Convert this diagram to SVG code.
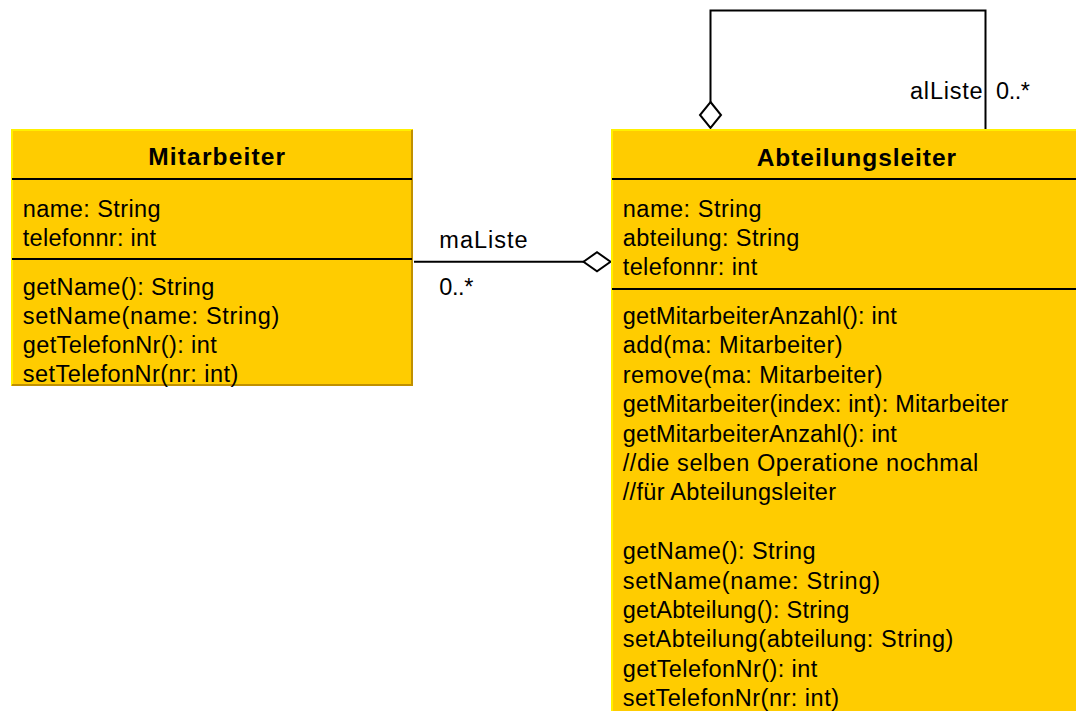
<svg xmlns="http://www.w3.org/2000/svg" width="1076" height="711" viewBox="0 0 1076 711">
<style>
text{font-family:"Liberation Sans",Arial,sans-serif;font-size:23.5px;fill:#000}
.t{font-weight:bold;font-size:24.5px}
.fill{fill:#FFCC00}
.lt{stroke:#FFF000;stroke-width:2;fill:none}
.dk{stroke:#C09000;stroke-width:2;fill:none}
.sep{stroke:#000;stroke-width:2}
.con{stroke:#000;stroke-width:2;fill:none}
.dia{stroke:#000;stroke-width:2;fill:#fff;stroke-linejoin:miter}
</style>
<rect width="1076" height="711" fill="#fff"/>
<g id="connectors">
<path class="con" d="M414 261.7H584"/>
<polygon class="dia" points="583.5,261.7 597,252.2 610.5,261.7 597,271.2"/>
<path class="con" d="M710.5 102V10.5H985.5V129"/>
<polygon class="dia" points="710.5,102 721,115 710.5,128 700,115"/>
<text x="439.3" y="248.3" textLength="88.4" lengthAdjust="spacing">maListe</text>
<text x="439.3" y="295" textLength="34" lengthAdjust="spacing">0..*</text>
<text x="910" y="99.3" textLength="72.7" lengthAdjust="spacing">alListe</text>
<text x="996" y="99.3" textLength="34" lengthAdjust="spacing">0..*</text>
</g>
<g id="Mitarbeiter">
<rect class="fill" x="11" y="129" width="402" height="257"/>
<path class="lt" d="M12 385V130H412"/>
<path class="dk" d="M412 130V385H12"/>
<line class="sep" x1="12" y1="179" x2="412" y2="179"/>
<line class="sep" x1="12" y1="259" x2="412" y2="259"/>
<text class="t" x="148.3" y="165" textLength="136.7" lengthAdjust="spacing">Mitarbeiter</text>
<text x="22.7" y="216.7" textLength="138" lengthAdjust="spacing">name: String</text>
<text x="22.7" y="245.5" textLength="133.3" lengthAdjust="spacing">telefonnr: int</text>
<text x="22.7" y="295" textLength="191.6" lengthAdjust="spacing">getName(): String</text>
<text x="22.7" y="324" textLength="256.6" lengthAdjust="spacing">setName(name: String)</text>
<text x="22.7" y="353.3" textLength="194" lengthAdjust="spacing">getTelefonNr(): int</text>
<text x="22.7" y="382" textLength="215.6" lengthAdjust="spacing">setTelefonNr(nr: int)</text>
</g>
<g id="Abteilungsleiter">
<rect class="fill" x="611" y="129" width="490" height="620"/>
<path class="lt" d="M612 749V130H1100"/>
<line class="sep" x1="612" y1="179" x2="1100" y2="179"/>
<line class="sep" x1="612" y1="289" x2="1100" y2="289"/>
<text class="t" x="756.7" y="165.7" textLength="199.3" lengthAdjust="spacing">Abteilungsleiter</text>
<text x="622.7" y="216.7" textLength="139" lengthAdjust="spacing">name: String</text>
<text x="622.7" y="245.7" textLength="176.6" lengthAdjust="spacing">abteilung: String</text>
<text x="622.7" y="274.5" textLength="134.6" lengthAdjust="spacing">telefonnr: int</text>
<text x="622.7" y="324" textLength="274" lengthAdjust="spacing">getMitarbeiterAnzahl(): int</text>
<text x="622.7" y="353.4" textLength="220" lengthAdjust="spacing">add(ma: Mitarbeiter)</text>
<text x="622.7" y="382.8" textLength="260" lengthAdjust="spacing">remove(ma: Mitarbeiter)</text>
<text x="622.7" y="412.2" textLength="385.6" lengthAdjust="spacing">getMitarbeiter(index: int): Mitarbeiter</text>
<text x="622.7" y="441.6" textLength="274" lengthAdjust="spacing">getMitarbeiterAnzahl(): int</text>
<text x="622.7" y="471" textLength="355.6" lengthAdjust="spacing">//die selben Operatione nochmal</text>
<text x="622.7" y="500.4" textLength="213.3" lengthAdjust="spacing">//für Abteilungsleiter</text>
<text x="622.7" y="559.2" textLength="193" lengthAdjust="spacing">getName(): String</text>
<text x="622.7" y="588.6" textLength="257.3" lengthAdjust="spacing">setName(name: String)</text>
<text x="622.7" y="618" textLength="226.6" lengthAdjust="spacing">getAbteilung(): String</text>
<text x="622.7" y="647.4" textLength="330.6" lengthAdjust="spacing">setAbteilung(abteilung: String)</text>
<text x="622.7" y="676.8" textLength="194.6" lengthAdjust="spacing">getTelefonNr(): int</text>
<text x="622.7" y="706.2" textLength="216.3" lengthAdjust="spacing">setTelefonNr(nr: int)</text>
</g>
</svg>
